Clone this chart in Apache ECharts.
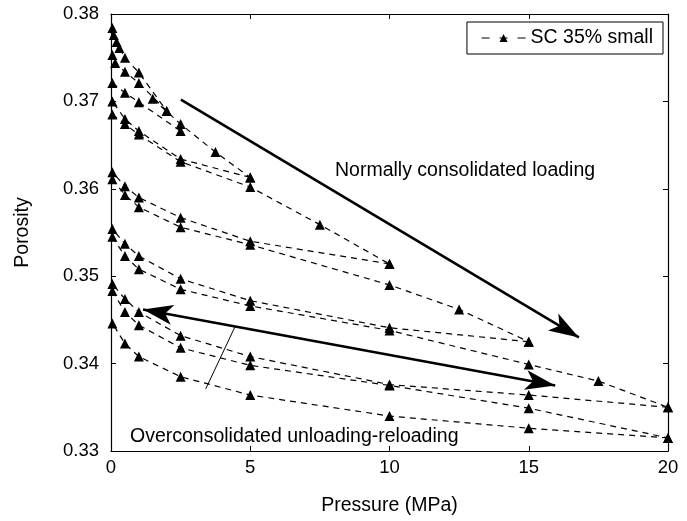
<!DOCTYPE html>
<html>
<head>
<meta charset="utf-8">
<script src="https://cdn.jsdelivr.net/npm/echarts@6/dist/echarts.min.js"></script>
<style>
html,body{margin:0;padding:0;background:#fff;}
#chart{width:687px;height:521px;}
</style>
</head>
<body>
<div id="chart"></div>
<script>
// ---- data (pressure MPa, porosity) ----
const seriesName = 'SC 35% small';
const xTicks = [0, 5, 10, 15, 20];
const yTicks = [0.33, 0.34, 0.35, 0.36, 0.37, 0.38];

const loading1 = [[0.05,0.3784],[0.1,0.3776],[0.2,0.3768],[0.3,0.3761],[0.5,0.3750],[1,0.3733],[2,0.3689]];
const unload2  = [[2,0.3689],[1,0.3721],[0.5,0.3734],[0.15,0.3744],[0.05,0.3753]];
const reload2  = [[0.05,0.3721],[0.5,0.3710],[1,0.3699],[2.5,0.3666]];
const loading2 = [[1.5,0.3703],[2.5,0.3674],[3.75,0.3642],[5,0.3613]];
const unload5  = [[5,0.3613],[2.5,0.3634],[1,0.3666],[0.5,0.3680],[0.05,0.3700]];
const reload5  = [[0.05,0.3685],[0.5,0.3674],[1,0.3662],[2.5,0.3631],[5,0.3602],[7.5,0.3559],[10,0.3514]];
const unload10 = [[10,0.3514],[5,0.3540],[2.5,0.3567],[1,0.3590],[0.5,0.3603],[0.05,0.3619]];
const reload10 = [[0.05,0.3611],[0.5,0.3593],[1,0.3579],[2.5,0.3556],[5,0.3536],[10,0.3490],[12.5,0.3462],[15,0.3425]];
const unload15 = [[15,0.3425],[10,0.3441],[5,0.3472],[2.5,0.3497],[1,0.3523],[0.5,0.3537],[0.05,0.3554]];
const reload15 = [[0.05,0.3545],[0.5,0.3523],[1,0.3508],[2.5,0.3485],[5,0.3466],[10,0.3438],[15,0.3399],[17.5,0.3380],[20,0.3350]];
const unload20 = [[20,0.3350],[15,0.3364],[10,0.3376],[5,0.3408],[2.5,0.3432],[1,0.3459],[0.5,0.3474],[0.05,0.3491]];
const reload20 = [[0.05,0.3483],[0.5,0.3459],[1,0.3444],[2.5,0.3418],[5,0.3398],[10,0.3375],[15,0.3349],[20,0.3315]];
const unload20b= [[20,0.3315],[15,0.3326],[10,0.3340],[5,0.3364],[2.5,0.3385],[1,0.3408],[0.5,0.3423],[0.05,0.3446]];

const curves = [loading1, unload2, reload2, loading2, unload5, reload5, unload10, reload10, unload15, reload15, unload20, reload20, unload20b];

// annotation arrows (data coordinates)
const ncArrow = [[2.51,0.3702],[16.8,0.3430]];
const ocArrow = [[1.15,0.3462],[15.95,0.3375]];
const ocPointer = [[3.4,0.3371],[4.45,0.3442]];

const chart = echarts.init(document.getElementById('chart'));
const FONT = 'Liberation Sans, Arial, sans-serif';

const lineSeries = curves.map(c => ({
  name: seriesName,
  type: 'line',
  data: c,
  symbol: 'triangle',
  symbolSize: 10,
  clip: false,
  itemStyle: {color: '#000'},
  lineStyle: {color: '#000', width: 1.2, type: [6, 5]},
  emphasis: {disabled: true},
  animation: false
}));

const annot = {
  type: 'line',
  data: [],
  silent: true,
  animation: false,
  markLine: {
    silent: true,
    animation: false,
    label: {show: false},
    emphasis: {disabled: true},
    symbolSize: [15, 30],
    lineStyle: {color: '#000', width: 2.6, type: 'solid'},
    data: [
      [{coord: ncArrow[0], symbol: 'none'}, {coord: ncArrow[1], symbol: 'arrow'}],
      [{coord: ocArrow[0], symbol: 'arrow'}, {coord: ocArrow[1], symbol: 'arrow'}],
      [{coord: ocPointer[0], symbol: 'none', lineStyle: {width: 1}}, {coord: ocPointer[1], symbol: 'none', lineStyle: {width: 1}}]
    ]
  }
};

const axisCommon = {
  type: 'value',
  axisLine: {show: true, onZero: false, lineStyle: {color: '#000', width: 1.2}},
  axisTick: {show: true, inside: true, length: 5, lineStyle: {color: '#000'}},
  splitLine: {show: false}
};

chart.setOption({
  backgroundColor: '#fff',
  textStyle: {fontFamily: FONT},
  grid: {left: 111, right: 19, top: 14, bottom: 68},
  legend: {
    data: [seriesName],
    right: 24, top: 22,
    orient: 'horizontal',
    borderColor: '#000', borderWidth: 1,
    padding: [6, 10, 6, 14],
    itemWidth: 44, itemHeight: 10,
    itemGap: 8,
    lineStyle: {type: [8, 10], width: 1.2},
    textStyle: {fontSize: 19.5, color: '#000', fontFamily: FONT},
    selectedMode: false
  },
  xAxis: [
    Object.assign({}, axisCommon, {
      position: 'bottom', min: 0, max: 20, interval: 5,
      name: 'Pressure (MPa)', nameLocation: 'middle', nameGap: 45,
      nameTextStyle: {fontSize: 19.5, color: '#000', fontFamily: FONT},
      axisLabel: {fontSize: 18.5, color: '#000', margin: 7, fontFamily: FONT}
    }),
    Object.assign({}, axisCommon, {
      position: 'top', min: 0, max: 20, interval: 5,
      axisLabel: {show: false}
    })
  ],
  yAxis: [
    Object.assign({}, axisCommon, {
      position: 'left', min: 0.33, max: 0.38, interval: 0.01,
      name: 'Porosity', nameLocation: 'middle', nameGap: 78,
      nameTextStyle: {fontSize: 19.5, color: '#000', fontFamily: FONT},
      axisLabel: {fontSize: 18.5, color: '#000', margin: 12, fontFamily: FONT,
        formatter: v => v.toFixed(2)}
    }),
    Object.assign({}, axisCommon, {
      position: 'right', min: 0.33, max: 0.38, interval: 0.01,
      axisLabel: {show: false}
    })
  ],
  graphic: [
    {type: 'text', left: 335, top: 161, silent: true,
      style: {text: 'Normally consolidated loading', fontSize: 19.5, fill: '#000', fontFamily: FONT}},
    {type: 'text', left: 130, top: 427, silent: true,
      style: {text: 'Overconsolidated unloading-reloading', fontSize: 19.5, fill: '#000', fontFamily: FONT}}
  ],
  series: lineSeries.concat([annot])
});
</script>
</body>
</html>
